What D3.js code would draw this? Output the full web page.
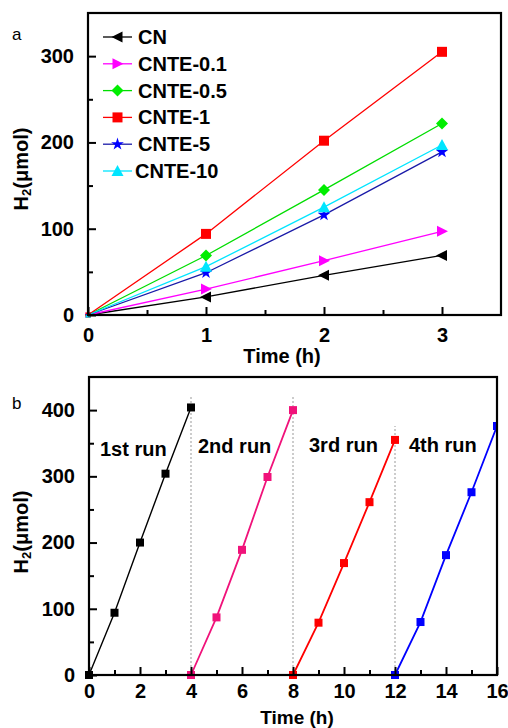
<!DOCTYPE html>
<html>
<head>
<meta charset="utf-8">
<script src="https://cdn.jsdelivr.net/npm/d3@7"></script>
<style>
  html, body { margin: 0; padding: 0; background: #fff; }
  svg { display: block; font-family: "Liberation Sans", Arial, sans-serif; }
  .tick text { font-weight: bold; font-size: 20px; fill: #000; }
</style>
</head>
<body>
<svg id="fig" width="508" height="728"></svg>
<script>
// ---- Panel a: H2 evolution over time for each sample ----
const timesA = [0, 1, 2, 3];
const seriesNames = ["CN", "CNTE-0.1", "CNTE-0.5", "CNTE-1", "CNTE-5", "CNTE-10"];
const valuesCN      = [0, 21, 46, 69];
const valuesCNTE01  = [0, 30, 63, 97];
const valuesCNTE05  = [0, 69, 145, 222];
const valuesCNTE1   = [0, 94, 202, 305];
const valuesCNTE5   = [0, 49, 116, 189];
const valuesCNTE10  = [0, 56, 125, 197];
const xTicksA = [0, 1, 2, 3];
const yTicksA = [0, 100, 200, 300];

// ---- Panel b: four consecutive cycles of CNTE-1 ----
const runLabels = ["1st run", "2nd run", "3rd run", "4th run"];
const runTimes = [
  [0, 1, 2, 3, 4],
  [4, 5, 6, 7, 8],
  [8, 9, 10, 11, 12],
  [12, 13, 14, 15, 16]
];
const runValues = [
  [0, 94, 200, 304, 404],
  [0, 87, 189, 299, 400],
  [0, 79, 169, 261, 355],
  [0, 80, 181, 276, 376]
];
const cycleBreaks = [4, 8, 12];
const cycleBreakTops = [420, 420, 376];
const xTicksB = [0, 2, 4, 6, 8, 10, 12, 14, 16];
const yTicksB = [0, 100, 200, 300, 400];

const colorsA = ["#000000", "#ff00ff", "#00dd00", "#ff0000", "#1a1aa8", "#00e5ff"];
const markerColorsA = ["#000000", "#ff00ff", "#00ee00", "#ff0000", "#0000ff", "#00e5ff"];
const symbolsA = ["triLeft", "triRight", "diamond", "square", "star", "triUp"];
const colorsB = ["#000000", "#f0127a", "#ff0000", "#0000ff"];

const svg = d3.select("#fig");
svg.append("rect").attr("width", 508).attr("height", 728).attr("fill", "#fff");

function markerPath(kind, size) {
  const s = size;
  switch (kind) {
    case "triLeft":  return `M${-s*0.6},0L${s*0.5},${-s*0.55}L${s*0.5},${s*0.55}Z`;
    case "triRight": return `M${s*0.6},0L${-s*0.5},${-s*0.55}L${-s*0.5},${s*0.55}Z`;
    case "triUp":    return `M0,${-s*0.6}L${s*0.6},${s*0.5}L${-s*0.6},${s*0.5}Z`;
    case "diamond":  return `M0,${-s*0.6}L${s*0.6},0L0,${s*0.6}L${-s*0.6},0Z`;
    case "square":   return `M${-s/2},${-s/2}h${s}v${s}h${-s}Z`;
    case "star":     return d3.symbol().type(d3.symbolStar).size(s*s*0.5)();
  }
}

function drawAxes(g, x, y, w, h, xTicks, xMinor, yTicks, yMinor, xPad) {
  const xa = g.append("g").attr("transform", `translate(0,${h})`)
    .call(d3.axisBottom(x).tickValues(xTicks).tickSizeInner(-8).tickSizeOuter(0).tickPadding(xPad)
      .tickFormat(d3.format("d")));
  const xm = g.append("g").attr("transform", `translate(0,${h})`)
    .call(d3.axisBottom(x).tickValues(xMinor).tickSize(-5).tickFormat(""));
  const ya = g.append("g")
    .call(d3.axisLeft(y).tickValues(yTicks).tickSizeInner(-8).tickSizeOuter(0).tickPadding(14)
      .tickFormat(d3.format("d")));
  const ym = g.append("g")
    .call(d3.axisLeft(y).tickValues(yMinor).tickSize(-5).tickFormat(""));
  [xa, xm, ya, ym].forEach(a => {
    a.select(".domain").remove();
    a.selectAll(".tick line").attr("stroke", "#000").attr("stroke-width", 2);
  });
  g.append("rect").attr("width", w).attr("height", h)
    .attr("fill", "none").attr("stroke", "#000").attr("stroke-width", 2.2);
}

function yTitle(parent, cx, cy) {
  const t = parent.append("text")
    .attr("transform", `translate(${cx},${cy}) rotate(-90)`)
    .attr("text-anchor", "middle").attr("dominant-baseline", "central")
    .attr("font-weight", "bold").attr("font-size", 20);
  t.append("tspan").text("H");
  t.append("tspan").text("2").attr("font-size", 13).attr("dy", 5);
  t.append("tspan").text("(μmol)").attr("dy", -5);
}

// ---------- Panel a ----------
{
  const L = 88, T = 13, W = 413, H = 302;
  const g = svg.append("g").attr("transform", `translate(${L},${T})`);
  const x = d3.scaleLinear().domain([0, 3.5]).range([0, W]);
  const y = d3.scaleLinear().domain([0, 350]).range([H, 0]);

  const allSeries = [valuesCN, valuesCNTE01, valuesCNTE05, valuesCNTE1, valuesCNTE5, valuesCNTE10];
  const line = d3.line().x((d, i) => x(timesA[i])).y(d => y(d));

  allSeries.forEach((vals, k) => {
    g.append("path").datum(vals).attr("d", line)
      .attr("fill", "none").attr("stroke", colorsA[k]).attr("stroke-width", 1.3);
  });
  allSeries.forEach((vals, k) => {
    g.selectAll(null).data(vals).enter().append("path")
      .attr("transform", (d, i) => `translate(${x(timesA[i])},${y(d)})`)
      .attr("d", (d, i) => markerPath(symbolsA[k], i === 0 ? 5 : 10))
      .attr("fill", markerColorsA[k]);
  });

  drawAxes(g, x, y, W, H, xTicksA, [0.5, 1.5, 2.5], yTicksA, [50, 150, 250], 13);

  // legend
  const lg = svg.append("g");
  seriesNames.forEach((name, k) => {
    const ry = 37 + k * 26.8;
    lg.append("line").attr("x1", 103).attr("x2", 132).attr("y1", ry).attr("y2", ry)
      .attr("stroke", colorsA[k]).attr("stroke-width", 1.3);
    lg.append("path").attr("transform", `translate(117.5,${ry})`)
      .attr("d", markerPath(symbolsA[k], 10)).attr("fill", markerColorsA[k]);
    lg.append("text").attr("x", k === 5 ? 135 : 138).attr("y", ry)
      .attr("dominant-baseline", "central").attr("font-weight", "bold").attr("font-size", 20)
      .text(name);
  });

  svg.append("text").attr("x", 282).attr("y", 356).attr("text-anchor", "middle")
    .attr("dominant-baseline", "central").attr("font-weight", "bold").attr("font-size", 20)
    .text("Time (h)");
  yTitle(svg, 21, 169);
  svg.append("text").attr("x", 12).attr("y", 40).attr("font-size", 17).text("a");
}

// ---------- Panel b ----------
{
  const L = 89, T = 377, W = 408, H = 298;
  const g = svg.append("g").attr("transform", `translate(${L},${T})`);
  const x = d3.scaleLinear().domain([0, 16]).range([0, W]);
  const y = d3.scaleLinear().domain([0, 450]).range([H, 0]);

  cycleBreaks.forEach((b, i) => {
    g.append("line").attr("x1", x(b)).attr("x2", x(b))
      .attr("y1", y(0)).attr("y2", y(cycleBreakTops[i]))
      .attr("stroke", "#999").attr("stroke-width", 1).attr("stroke-dasharray", "2,2");
  });

  g.append("clipPath").attr("id", "clipB")
    .append("rect").attr("x", -6).attr("y", -6).attr("width", W + 6).attr("height", H + 12);
  const plot = g.append("g").attr("clip-path", "url(#clipB)");

  runValues.forEach((vals, k) => {
    const line = d3.line().x((d, i) => x(runTimes[k][i])).y(d => y(d));
    plot.append("path").datum(vals).attr("d", line)
      .attr("fill", "none").attr("stroke", colorsB[k]).attr("stroke-width", k === 0 ? 1.4 : 1.8);
    plot.selectAll(null).data(vals).enter().append("rect")
      .attr("x", (d, i) => x(runTimes[k][i]) - 4).attr("y", d => y(d) - 4)
      .attr("width", 8).attr("height", 8).attr("fill", colorsB[k]);
  });

  drawAxes(g, x, y, W, H, xTicksB, [1, 3, 5, 7, 9, 11, 13, 15], yTicksB, [50, 150, 250, 350], 9);

  const labelPos = [[100, 449], [198, 446], [309, 445], [409, 445]];
  runLabels.forEach((txt, i) => {
    svg.append("text").attr("x", labelPos[i][0]).attr("y", labelPos[i][1])
      .attr("dominant-baseline", "central").attr("font-weight", "bold").attr("font-size", 20)
      .text(txt);
  });

  svg.append("text").attr("x", 297).attr("y", 717).attr("text-anchor", "middle")
    .attr("dominant-baseline", "central").attr("font-weight", "bold").attr("font-size", 19)
    .text("Time (h)");
  yTitle(svg, 21, 532);
  svg.append("text").attr("x", 12).attr("y", 409).attr("font-size", 17).text("b");
}
</script>
</body>
</html>
